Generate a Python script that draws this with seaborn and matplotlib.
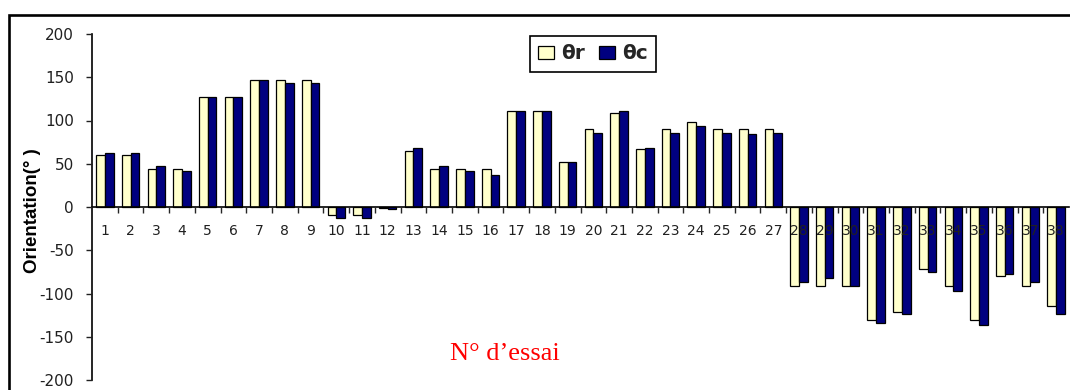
import numpy as np
import pandas as pd
import matplotlib
matplotlib.use("Agg")
import matplotlib.pyplot as plt
from matplotlib.patches import Rectangle
import seaborn as sns

# Trial numbers and measured / computed orientation angles (degrees)
essais = [str(i) for i in range(1, 39)]
theta_r = [60, 60, 44, 44, 127, 127, 147, 147, 147, -9, -9, -1, 65, 44, 44, 44,
           111, 111, 52, 90, 109, 67, 90, 98, 90, 90, 90,
           -91, -91, -91, -131, -121, -72, -91, -131, -80, -91, -115]
theta_c = [63, 63, 47, 42, 127, 127, 147, 143, 143, -13, -13, -2, 68, 47, 42, 37,
           111, 111, 52, 86, 111, 68, 86, 94, 86, 84, 86,
           -87, -82, -91, -134, -124, -75, -97, -136, -77, -87, -124]
series_names = ["θr", "θc"]
y_ticks = [-200, -150, -100, -50, 0, 50, 100, 150, 200]

df = pd.DataFrame({
    "essai": essais * 2,
    "angle": theta_r + theta_c,
    "serie": [series_names[0]] * len(essais) + [series_names[1]] * len(essais),
})

sns.set_style("ticks")
plt.rcParams["font.family"] = ["DejaVu Sans"]
plt.rcParams["axes.unicode_minus"] = False

W, H = 1070, 390
fig = plt.figure(figsize=(W / 100, H / 100), dpi=100)
ax = fig.add_axes([92 / W, 1 - 380 / H, (1069 - 92) / W, (380 - 34) / H])

sns.barplot(data=df, x="essai", y="angle", hue="serie", order=essais,
            palette=["#FFFFCC", "#000080"], saturation=1, width=0.68,
            edgecolor="black", linewidth=0.9, ax=ax, legend=True)

# category labels sit on top of the bars
ax.set_axisbelow(False)
ax.set_ylim(-200, 200)
ax.set_yticks(y_ticks)
ax.tick_params(axis="y", direction="out", length=4, width=1, labelsize=11,
               colors="#202020", pad=9)

# category axis runs along zero, ticks between categories, labels below
ax.spines["bottom"].set_position(("data", 0))
ax.spines["top"].set_visible(False)
ax.spines["right"].set_visible(False)
for sp in ("left", "bottom"):
    ax.spines[sp].set_linewidth(1.2)
    ax.spines[sp].set_color("black")
pos = np.arange(len(essais))
ax.set_xticks(pos[:-1] + 0.5, labels=[""] * (len(essais) - 1))
ax.set_xticks(pos, labels=essais, minor=True)
ax.tick_params(axis="x", which="major", direction="out", length=4, width=1)
ax.tick_params(axis="x", which="minor", length=0, pad=12, labelsize=10,
               colors="#202020")
ax.set_xlim(-0.5, len(essais) - 0.5)
ax.set_xlabel("")
ax.set_ylabel("Orientation(° )", fontsize=13.5, fontweight="bold",
              color="black", family=["Liberation Sans", "DejaVu Sans"])
ax.yaxis.set_label_coords(-0.052, 0.49)

handles, labels = ax.get_legend_handles_labels()
ax.legend(handles, labels, ncol=2, loc="upper left",
          bbox_to_anchor=(0.448, 0.993), borderaxespad=0, frameon=True,
          fancybox=False, edgecolor="black", framealpha=1,
          prop={"weight": "bold", "size": 14.5}, handlelength=0.8,
          handleheight=0.65, handletextpad=0.35, columnspacing=0.7,
          borderpad=0.4)
ax.get_legend().get_frame().set_linewidth(1.2)

fig.text(505 / W, 1 - 354 / H, "N° d’essai", color="red", fontsize=19,
         family=["Liberation Serif", "DejaVu Serif"], ha="center", va="center")

fig.patches.append(Rectangle((9 / W, -0.2), 1.2, 1.2 - 14.5 / H,
                             transform=fig.transFigure, fill=False,
                             edgecolor="black", linewidth=1.9, clip_on=False))

fig.savefig("out.png", dpi=100)
